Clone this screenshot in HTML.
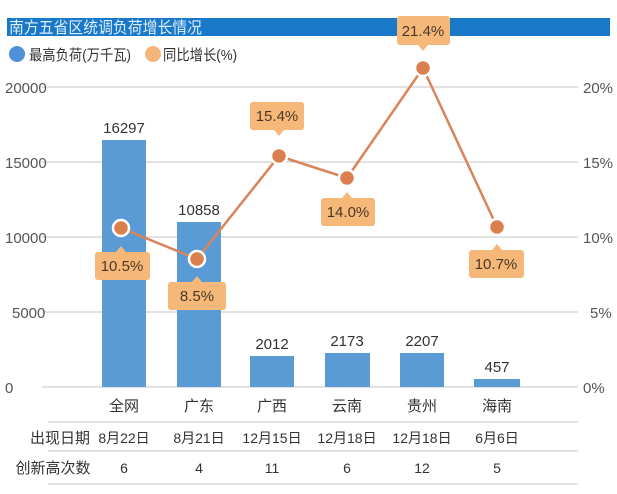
<!DOCTYPE html>
<html><head><meta charset="utf-8"><style>
body{margin:0;background:#fff;}
svg text{font-family:"Liberation Sans","Noto Sans CJK SC",sans-serif;}
</style></head><body>
<svg width="617" height="489" viewBox="0 0 617 489" xmlns="http://www.w3.org/2000/svg">
<rect x="7" y="18" width="603" height="18" fill="#1a78c8"/>
<text x="9" y="33" font-size="16" fill="#dcefff" textLength="193" lengthAdjust="spacingAndGlyphs">南方五省区统调负荷增长情况</text>
<circle cx="17" cy="54" r="8" fill="#4f90d8"/>
<text x="29" y="60" font-size="15" fill="#333" textLength="102" lengthAdjust="spacingAndGlyphs">最高负荷(万千瓦)</text>
<circle cx="153" cy="54" r="8" fill="#f4b47a"/>
<text x="163" y="60" font-size="15" fill="#333" textLength="74" lengthAdjust="spacingAndGlyphs">同比增长(%)</text>
<g stroke="#d0d0d0" stroke-width="1.2">
<line x1="42" y1="87" x2="578" y2="87"/><line x1="42" y1="162" x2="578" y2="162"/>
<line x1="42" y1="237" x2="578" y2="237"/><line x1="42" y1="312" x2="578" y2="312"/>
<line x1="42" y1="387" x2="578" y2="387"/>
<line x1="48" y1="422" x2="578" y2="422"/><line x1="48" y1="451" x2="578" y2="451"/><line x1="48" y1="484" x2="578" y2="484"/>
</g>
<g font-size="15" fill="#555">
<text x="5" y="93">20000</text><text x="5" y="168">15000</text><text x="5" y="243">10000</text><text x="12" y="318">5000</text><text x="5" y="393">0</text>
<text x="583" y="93">20%</text><text x="583" y="168">15%</text><text x="583" y="243">10%</text><text x="590" y="318">5%</text><text x="583" y="393">0%</text>
</g>
<g fill="#5b9bd5">
<rect x="102" y="140" width="44" height="247"/><rect x="177" y="222" width="44" height="165"/>
<rect x="250" y="356" width="44" height="31"/><rect x="325" y="353" width="45" height="34"/>
<rect x="400" y="353" width="44" height="34"/><rect x="474" y="379" width="46" height="8"/>
</g>
<g font-size="15" fill="#333" text-anchor="middle">
<text x="124" y="133">16297</text><text x="199" y="215">10858</text><text x="272" y="349">2012</text>
<text x="347" y="346">2173</text><text x="422" y="346">2207</text><text x="497" y="372">457</text>
<text x="124" y="411">全网</text><text x="199" y="411">广东</text><text x="272" y="411">广西</text>
<text x="347" y="411">云南</text><text x="422" y="411">贵州</text><text x="497" y="411">海南</text>
<text x="124" y="443" font-size="14">8月22日</text><text x="199" y="443" font-size="14">8月21日</text><text x="272" y="443" font-size="14">12月15日</text>
<text x="347" y="443" font-size="14">12月18日</text><text x="422" y="443" font-size="14">12月18日</text><text x="497" y="443" font-size="14">6月6日</text>
<text x="124" y="473" font-size="14">6</text><text x="199" y="473" font-size="14">4</text><text x="272" y="473" font-size="14">11</text>
<text x="347" y="473" font-size="14">6</text><text x="422" y="473" font-size="14">12</text><text x="497" y="473" font-size="14">5</text>
<text x="60" y="443">出现日期</text><text x="53" y="473">创新高次数</text>
</g>
<polyline points="121,228 197,259 279,156 347,178 423,68 497,227" fill="none" stroke="#d9845a" stroke-width="2.5"/>
<g fill="#d9804e" stroke="#fff" stroke-width="2.5">
<circle cx="121" cy="228" r="8"/><circle cx="197" cy="259" r="8"/><circle cx="279" cy="156" r="8"/>
<circle cx="347" cy="178" r="8"/><circle cx="423" cy="68" r="8"/><circle cx="497" cy="227" r="8"/>
</g>
<g fill="#f5b878">
<rect x="95" y="252" width="55" height="28" rx="3"/><path d="M116 252 L121 246 L126 252Z"/>
<rect x="168" y="282" width="58" height="28" rx="3"/><path d="M192 282 L197 276 L202 282Z"/>
<rect x="250" y="102" width="54" height="28" rx="3"/><path d="M274 130 L279 136 L284 130Z"/>
<rect x="321" y="198" width="54" height="28" rx="3"/><path d="M342 198 L347 192 L352 198Z"/>
<rect x="397" y="16" width="53" height="29" rx="3"/><path d="M418 45 L423 51 L428 45Z"/>
<rect x="469" y="250" width="55" height="28" rx="3"/><path d="M492 250 L497 244 L502 250Z"/>
</g>
<g font-size="15" fill="#4a3826" text-anchor="middle">
<text x="122" y="271">10.5%</text><text x="197" y="301">8.5%</text><text x="277" y="121">15.4%</text>
<text x="348" y="217">14.0%</text><text x="423" y="36">21.4%</text><text x="496" y="269">10.7%</text>
</g>
</svg>
</body></html>
